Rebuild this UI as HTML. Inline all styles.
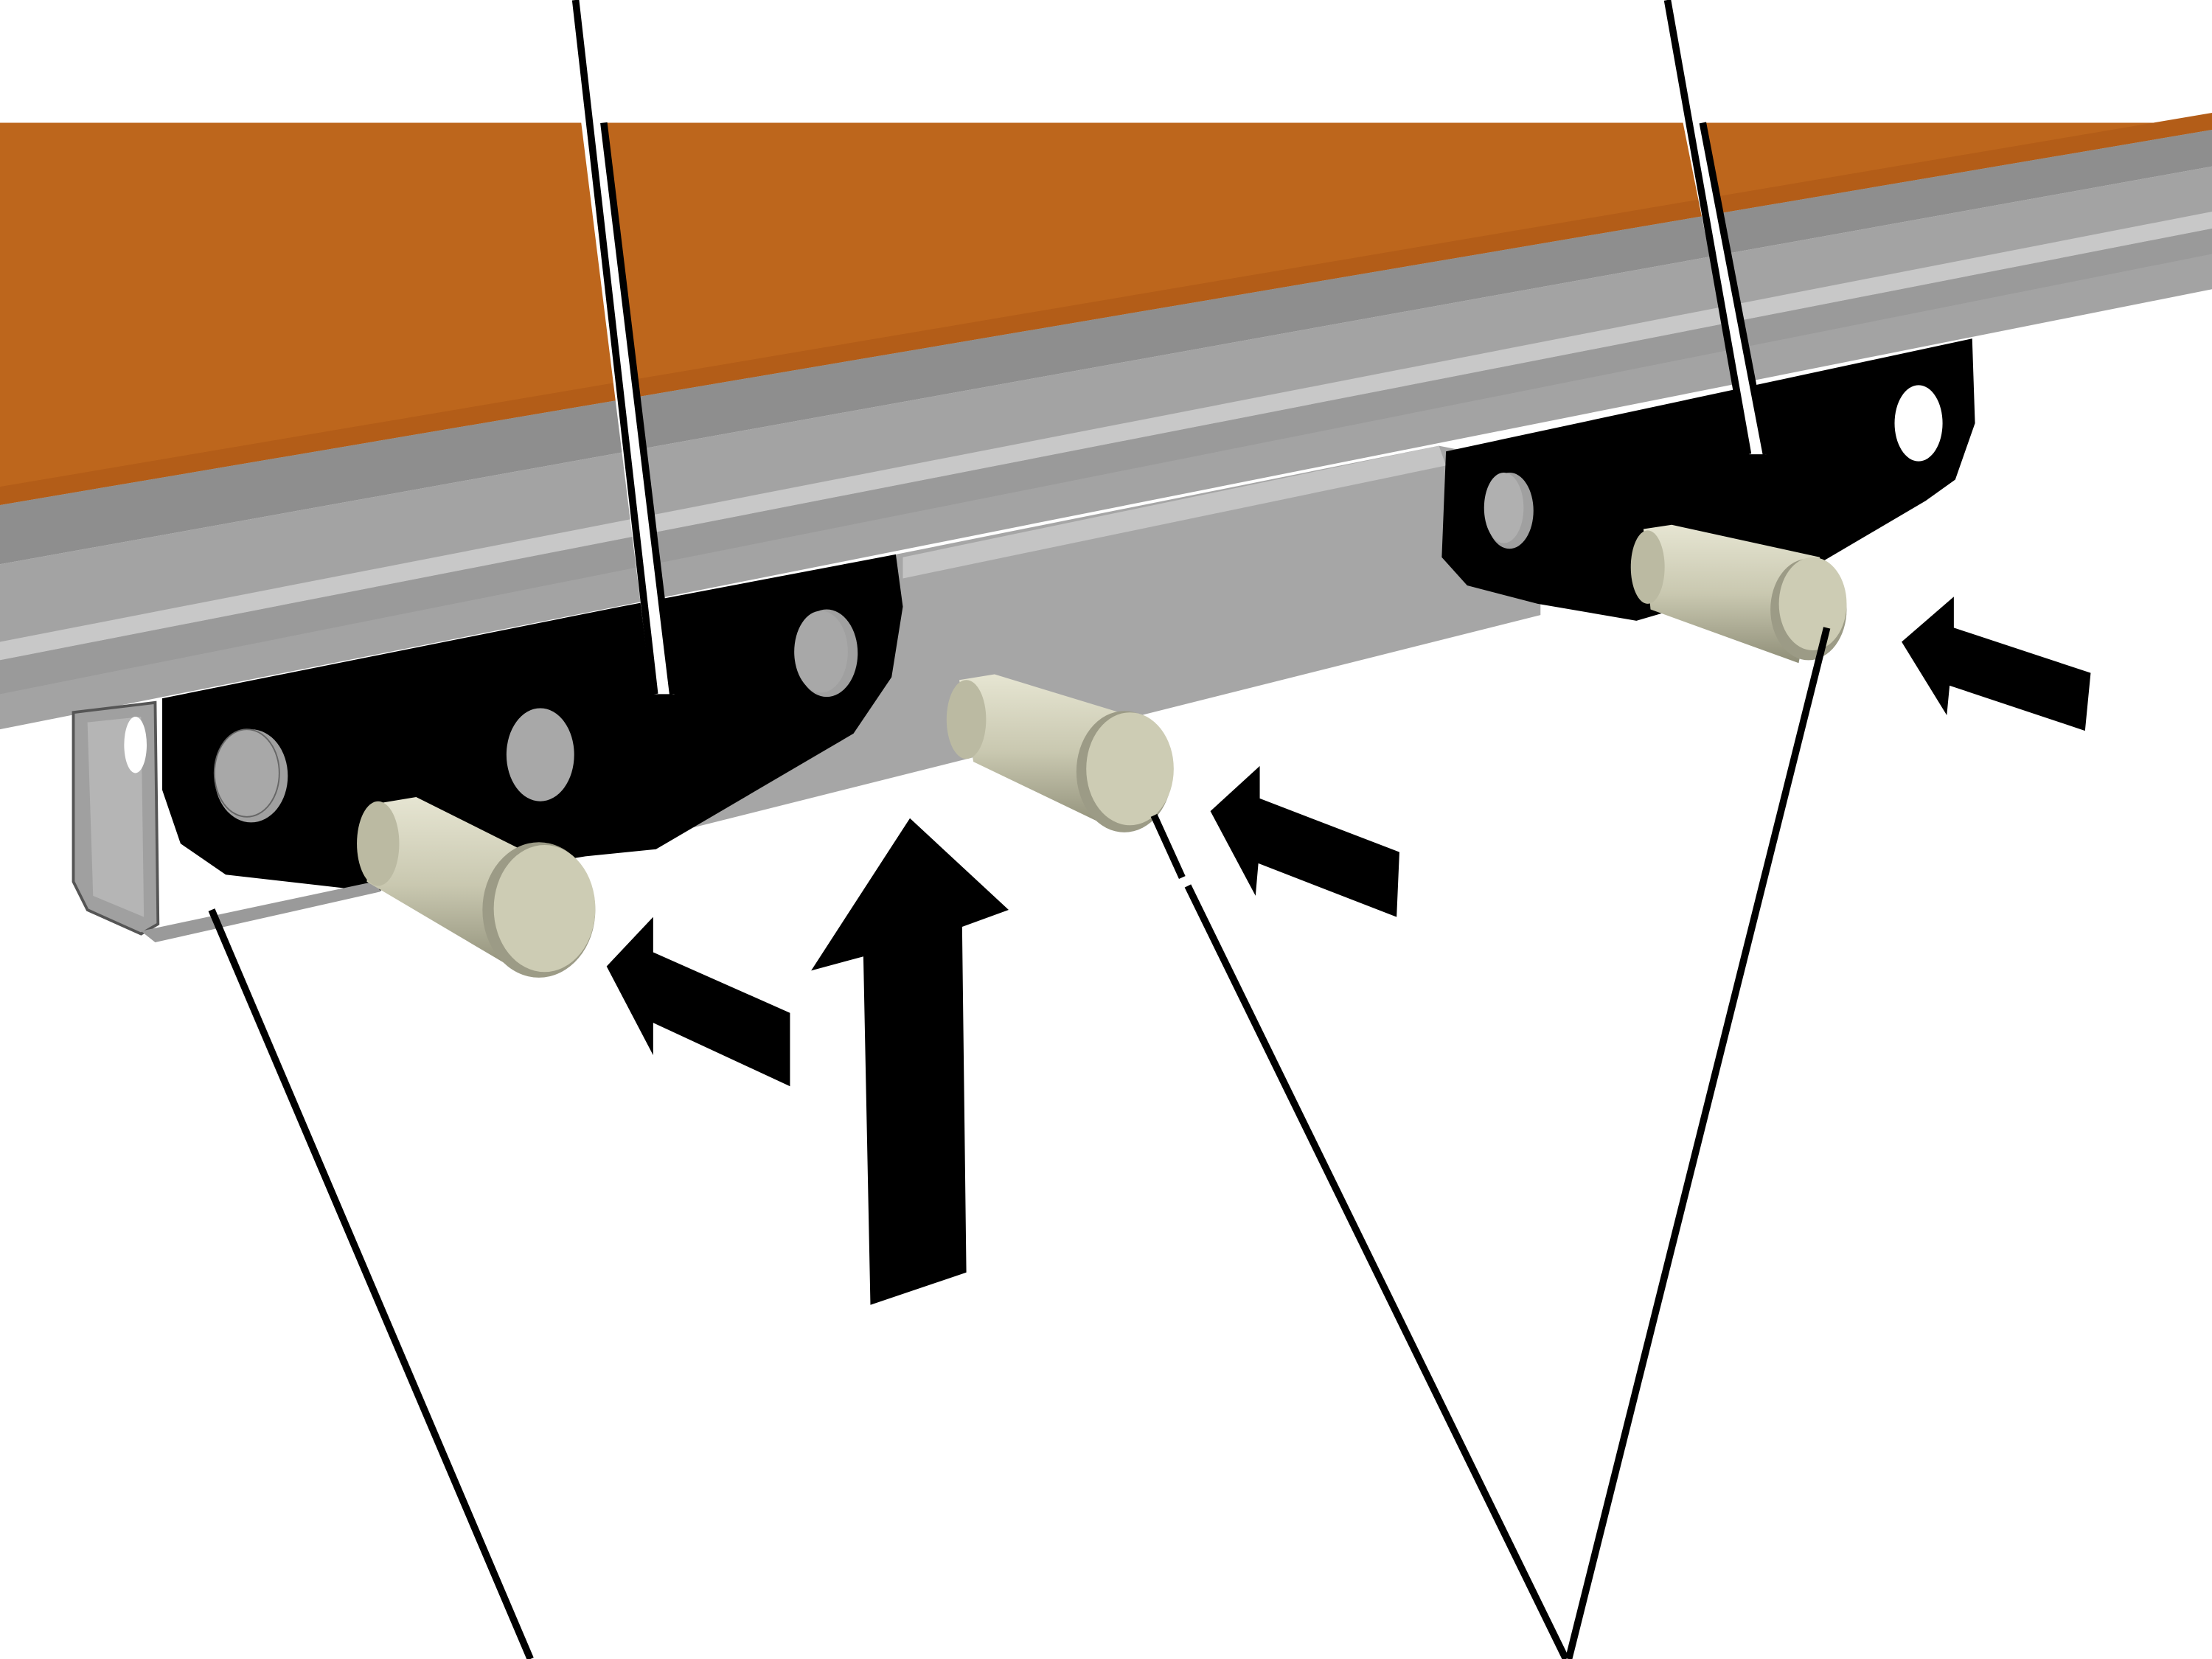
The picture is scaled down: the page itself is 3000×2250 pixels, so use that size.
<!DOCTYPE html>
<html><head><meta charset="utf-8"><style>html,body{margin:0;padding:0;background:#fff}svg{display:block}</style></head>
<body>
<svg width="3000" height="2250" viewBox="0 0 1568 1176" preserveAspectRatio="none" xmlns="http://www.w3.org/2000/svg">
<defs>
<linearGradient id="pin" x1="0" y1="0" x2="0" y2="1"><stop offset="0" stop-color="#e6e5d2"/><stop offset="0.5" stop-color="#c9c8b0"/><stop offset="1" stop-color="#8f8e78"/></linearGradient>
</defs>
<rect width="1568" height="1176" fill="#fff"/>
<polygon points="0,87 1568,87 1568,92 0,358" fill="#bd661c"/>
<polygon points="0,345 1568,80 1568,92 0,358" fill="#b35d18"/>
<polygon points="0,358 1568,92 1568,118 0,400" fill="#8e8e8e"/>
<polygon points="0,400 1568,118 1568,205 0,517" fill="#a3a3a3"/>
<polygon points="0,455 1568,150 1568,162 0,468" fill="#c8c8c8"/>
<polygon points="0,468 1568,162 1568,180 0,492" fill="#9a9a9a"/>
<polygon points="440,432 1020,316 1092,330 1092,436 470,592" fill="#a6a6a6"/>
<polygon points="640,395 1020,316 1025,330 640,410" fill="#c4c4c4"/>
<polygon points="52,505 110,498 112,655 100,662 62,645 52,625" fill="#a0a0a0" stroke="#555" stroke-width="2"/>
<polygon points="62,512 100,508 102,650 66,635" fill="#b5b5b5"/>
<ellipse cx="96" cy="528" rx="8" ry="20" fill="#fff"/>
<polygon points="115,495 440,430 635,393 640,430 632,480 605,520 465,602 415,607 265,632 160,620 128,598 115,560" fill="#000"/>
<polygon points="100,660 265,625 270,632 110,668" fill="#9a9a9a"/>
<ellipse cx="178" cy="550" rx="26" ry="33" fill="#a0a0a0"/>
<ellipse cx="175" cy="548" rx="23" ry="31" fill="#a8a8a8" stroke="#666"/>
<ellipse cx="383" cy="535" rx="24" ry="33" fill="#a8a8a8"/>
<ellipse cx="586" cy="463" rx="22" ry="31" fill="#a0a0a0"/>
<ellipse cx="582" cy="462" rx="19" ry="29" fill="#a8a8a8"/>
<polygon points="1025,320 1398,240 1400,300 1386,340 1365,355 1280,405 1160,440 1090,428 1040,415 1022,395" fill="#000"/>
<ellipse cx="1360" cy="300" rx="17" ry="27" fill="#fff"/>
<ellipse cx="1070" cy="362" rx="17" ry="27" fill="#a0a0a0"/>
<ellipse cx="1066" cy="360" rx="14" ry="25" fill="#b0b0b0"/>
<polygon points="265,570 295,565 395,615 370,690 260,625" fill="url(#pin)"/>
<ellipse cx="268" cy="598" rx="15" ry="30" fill="#bbbaa2"/>
<ellipse cx="382" cy="645" rx="40" ry="48" fill="#9c9b86"/>
<ellipse cx="386" cy="644" rx="36" ry="45" fill="#cdccb4"/>
<polygon points="680,482 705,478 810,510 790,588 690,540" fill="url(#pin)"/>
<ellipse cx="685" cy="510" rx="14" ry="28" fill="#bbbaa2"/>
<ellipse cx="797" cy="547" rx="34" ry="43" fill="#9c9b86"/>
<ellipse cx="801" cy="545" rx="31" ry="40" fill="#cdccb4"/>
<polygon points="1165,375 1185,372 1290,395 1275,470 1170,432" fill="url(#pin)"/>
<ellipse cx="1168" cy="402" rx="12" ry="26" fill="#bbbaa2"/>
<ellipse cx="1282" cy="432" rx="27" ry="36" fill="#9c9b86"/>
<ellipse cx="1285" cy="428" rx="24" ry="33" fill="#cdccb4"/>
<polygon points="430,685 463,650 463,675 560,718 560,770 463,725 463,748" fill="#000"/>
<polygon points="858,575 893,543 893,566 992,604 990,650 892,612 890,635" fill="#000"/>
<polygon points="1348,455 1385,423 1385,445 1482,477 1478,518 1382,486 1380,507" fill="#000"/>
<polygon points="575,688 645,580 715,645 682,657 685,902 617,925 612,678" fill="#000"/>
<g stroke="#000" stroke-width="5" fill="none">
<line x1="150" y1="645" x2="376" y2="1176"/>
<line x1="818" y1="578" x2="838" y2="622"/>
<line x1="842" y1="628" x2="1110" y2="1176"/>
<line x1="1295" y1="445" x2="1112" y2="1176"/>
</g>
<polygon points="412,87 430,87 478,492 462,492" fill="#fff"/>
<polygon points="1193,87 1207,87 1252,322 1240,322" fill="#fff"/>
<g stroke="#000" stroke-width="5" fill="none">
<line x1="408" y1="0" x2="464" y2="492"/>
<line x1="428" y1="87" x2="477" y2="492"/>
<line x1="1182" y1="0" x2="1239" y2="322"/>
<line x1="1207" y1="87" x2="1252" y2="322"/>
</g>
</svg>
</body></html>
